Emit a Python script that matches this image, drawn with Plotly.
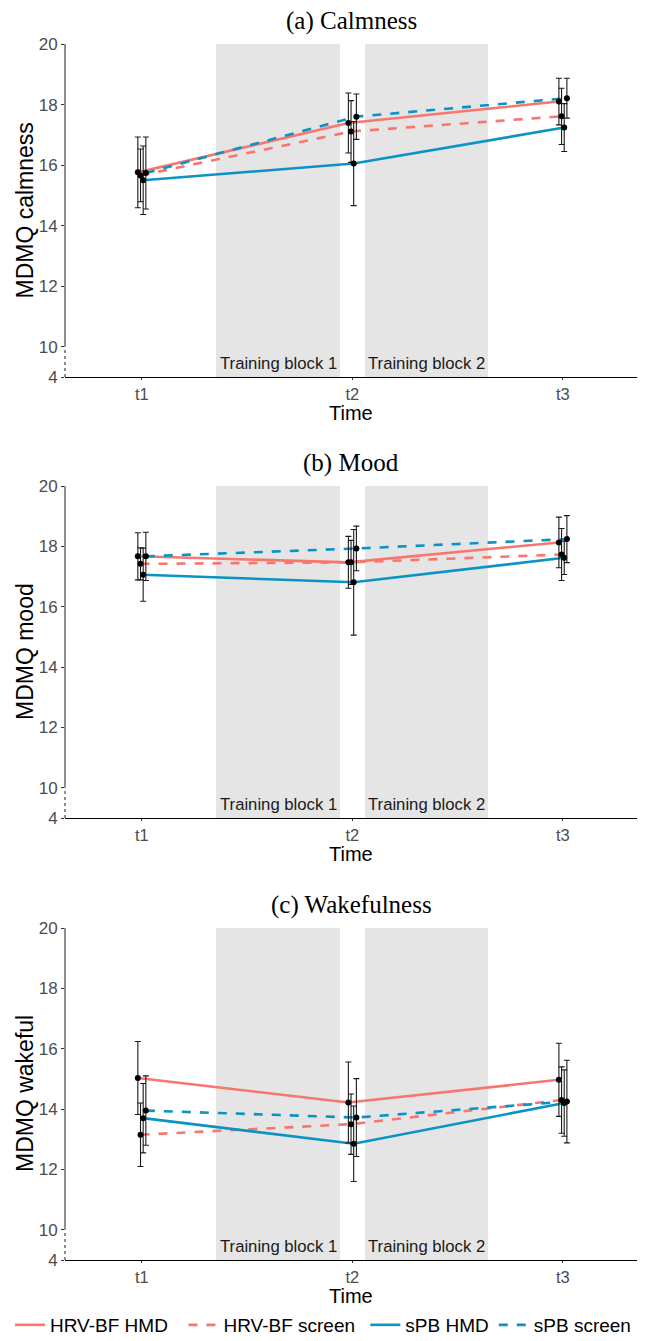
import plotly.graph_objects as go

# ---------------- data ----------------
times = [1, 2, 3]
time_labels = ["t1", "t2", "t3"]
series_names = ["HRV-BF HMD", "HRV-BF screen", "sPB HMD", "sPB screen"]

calm_mean = {
    "HRV-BF HMD":    [15.76, 17.39, 18.10],
    "HRV-BF screen": [15.66, 17.11, 17.61],
    "sPB HMD":       [15.50, 16.05, 17.24],
    "sPB screen":    [15.74, 17.60, 18.21],
}
calm_err = {
    "HRV-BF HMD":    [1.17, 0.99, 0.77],
    "HRV-BF screen": [0.87, 1.02, 0.93],
    "sPB HMD":       [1.13, 1.39, 0.79],
    "sPB screen":    [1.19, 0.75, 0.66],
}
mood_mean = {
    "HRV-BF HMD":    [17.67, 17.47, 18.13],
    "HRV-BF screen": [17.42, 17.47, 17.73],
    "sPB HMD":       [17.06, 16.81, 17.62],
    "sPB screen":    [17.67, 17.93, 18.24],
}
mood_err = {
    "HRV-BF HMD":    [0.78, 0.86, 0.84],
    "HRV-BF screen": [0.53, 0.73, 0.86],
    "sPB HMD":       [0.88, 1.75, 0.55],
    "sPB screen":    [0.80, 0.74, 0.78],
}
wake_mean = {
    "HRV-BF HMD":    [15.03, 14.22, 14.97],
    "HRV-BF screen": [13.15, 13.50, 14.30],
    "sPB HMD":       [13.70, 12.85, 14.20],
    "sPB screen":    [13.95, 13.72, 14.25],
}
wake_err = {
    "HRV-BF HMD":    [1.21, 1.34, 1.21],
    "HRV-BF screen": [1.05, 1.00, 1.10],
    "sPB HMD":       [1.15, 1.25, 1.10],
    "sPB screen":    [1.15, 1.29, 1.37],
}

panel_titles = ["(a) Calmness", "(b) Mood", "(c) Wakefulness"]
y_titles = ["MDMQ calmness", "MDMQ mood", "MDMQ wakeful"]
x_title = "Time"
block_labels = ["Training block 1", "Training block 2"]
block_ranges = [(1.3525, 1.9416), (2.0605, 2.6449)]
y_tickvals = [9, 10, 12, 14, 16, 18, 20]
y_ticktext = ["4", "10", "12", "14", "16", "18", "20"]
legend_pad = {"HRV-BF HMD": "\u00a0\u00a0", "HRV-BF screen": "\u00a0",
              "sPB HMD": "", "sPB screen": ""}

colors = {"HRV-BF HMD": "#F8766D", "HRV-BF screen": "#F8766D",
          "sPB HMD": "#0A93C4", "sPB screen": "#0A93C4"}
dashes = {"HRV-BF HMD": "solid", "HRV-BF screen": "dash",
          "sPB HMD": "solid", "sPB screen": "dash"}
dodge = {"HRV-BF HMD": -0.019, "HRV-BF screen": -0.0063,
         "sPB HMD": 0.0063, "sPB screen": 0.019}

panels = [(calm_mean, calm_err), (mood_mean, mood_err), (wake_mean, wake_err)]

W, H = 647, 1341


def fy(p):
    return 1 - p / H


def fx(p):
    return p / W


panel_px = [(44, 377), (486, 818), (928, 1260)]
x_px = (65, 637)
FONT = "Liberation Sans, Arial"

fig = go.Figure()
shapes = []
annotations = []
layout_axes = {}

for i, (means, errs) in enumerate(panels):
    k = "" if i == 0 else str(i + 1)
    xa, ya = "x" + k, "y" + k
    top, bot = panel_px[i]
    for s in series_names:
        xs = [t + dodge[s] for t in times]
        fig.add_trace(go.Scatter(
            x=xs, y=means[s], mode="lines", xaxis=xa, yaxis=ya,
            line=dict(color=colors[s], width=2.6, dash=dashes[s]),
            name=s + legend_pad[s], legendgroup=s, showlegend=(i == 0),
            hoverinfo="skip"))
    for s in series_names:
        xs = [t + dodge[s] for t in times]
        fig.add_trace(go.Scatter(
            x=xs, y=means[s], mode="markers", xaxis=xa, yaxis=ya,
            marker=dict(color="black", size=6),
            error_y=dict(type="data", array=errs[s], color="#1a1a1a",
                         thickness=1.1, width=3),
            showlegend=False, hoverinfo="skip"))
    for (x0, x1), lab in zip(block_ranges, block_labels):
        shapes.append(dict(type="rect", xref=xa, yref=ya, x0=x0, x1=x1,
                           y0=9, y1=20, fillcolor="#E5E5E5",
                           line=dict(width=0), layer="below"))
        annotations.append(dict(xref=xa, yref=ya, x=(x0 + x1) / 2, y=9.05,
                                text=lab, showarrow=False, yanchor="bottom",
                                font=dict(family=FONT, size=16.7, color="#1a1a1a")))
    shapes.append(dict(type="line", xref=xa + " domain", yref=ya, x0=0, x1=0,
                       y0=9, y1=10, line=dict(color="#333333", width=1.1, dash="3px,3px")))
    shapes.append(dict(type="line", xref=xa + " domain", yref=ya, x0=0, x1=0,
                       y0=10, y1=20, line=dict(color="#333333", width=1.1)))
    # panel title
    annotations.append(dict(xref="paper", yref="paper", x=fx((x_px[0] + x_px[1]) / 2),
                            y=fy(top - 23), text=panel_titles[i],
                            showarrow=False, yanchor="middle", xanchor="center",
                            font=dict(family="Liberation Serif, Times New Roman",
                                      size=25, color="black")))
    # x axis title
    annotations.append(dict(xref="paper", yref="paper", x=fx((x_px[0] + x_px[1]) / 2),
                            y=fy(bot + 36), text=x_title, showarrow=False,
                            yanchor="middle", xanchor="center",
                            font=dict(family=FONT, size=20, color="black")))
    # y axis title
    annotations.append(dict(xref="paper", yref="paper", x=fx(25),
                            y=fy((top + bot) / 2), text=y_titles[i], showarrow=False,
                            textangle=-90, yanchor="middle", xanchor="center",
                            font=dict(family=FONT, size=23, color="black")))
    layout_axes["xaxis" + k] = dict(
        domain=[fx(x_px[0]), fx(x_px[1])], range=[0.635, 3.352],
        anchor=ya, tickvals=times, ticktext=time_labels, automargin=False,
        showline=True, linecolor="black", linewidth=1.3,
        ticks="outside", ticklen=2, tickcolor="#333333",
        tickfont=dict(family=FONT, size=16.5, color="#4d4d4d"),
        showgrid=False, zeroline=False, fixedrange=True)
    layout_axes["yaxis" + k] = dict(
        domain=[fy(bot), fy(top)], range=[9, 20],
        anchor=xa, tickvals=y_tickvals, ticktext=y_ticktext, automargin=False,
        showline=False, ticks="outside", ticklen=3, tickcolor="#333333",
        tickfont=dict(family=FONT, size=17, color="#4d4d4d"),
        showgrid=False, zeroline=False, fixedrange=True)

fig.update_layout(
    width=W, height=H,
    margin=dict(l=0, r=0, t=0, b=0, autoexpand=False),
    paper_bgcolor="white", plot_bgcolor="white",
    shapes=shapes, annotations=annotations,
    showlegend=True,
    legend=dict(orientation="h", xref="container", yref="container",
                x=fx(10), xanchor="left", y=fy(1325), yanchor="middle",
                font=dict(family=FONT, size=19, color="black"),
                itemwidth=30, tracegroupgap=0, bgcolor="rgba(0,0,0,0)"),
    **layout_axes,
)

fig.write_html(
    "out.html",
    config={"displayModeBar": False, "staticPlot": True},
    post_script=("document.documentElement.style.margin='0';"
                 "document.body.style.margin='0';"
                 "document.body.style.overflow='hidden';"
                 "document.documentElement.style.overflow='hidden';"),
)
